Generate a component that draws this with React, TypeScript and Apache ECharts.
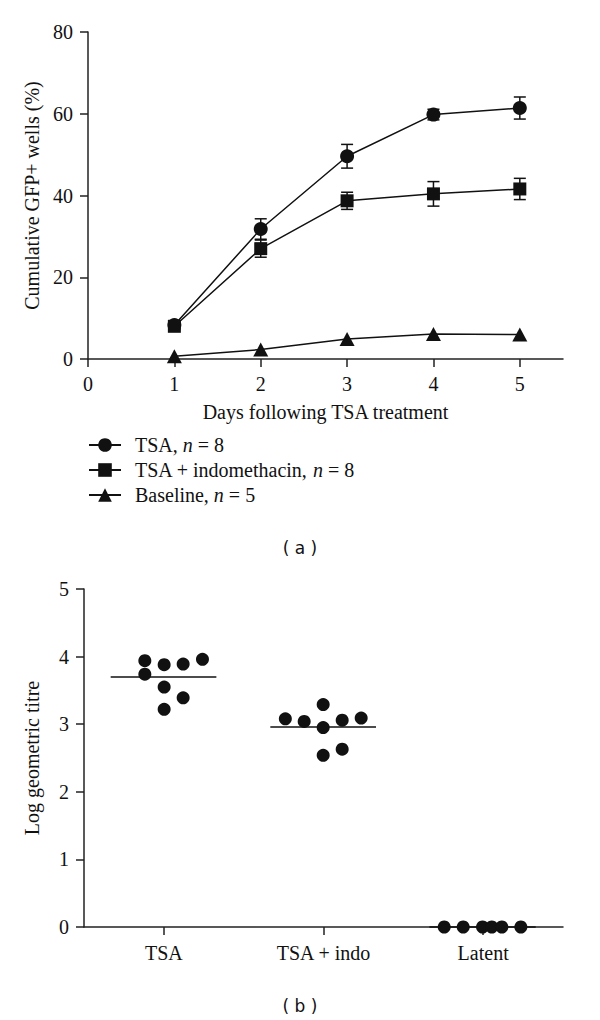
import React, { useEffect, useRef } from "react";
import * as echarts from "echarts";

// ---------- Panel (a) data ----------
const days = [1, 2, 3, 4, 5];
const dayTicks = [0, 1, 2, 3, 4, 5];
const tsaMean = [8.3, 31.8, 49.6, 59.8, 61.4];
const tsaErr = [0.8, 2.5, 2.9, 1.3, 2.7];
const indoMean = [8.0, 27.0, 38.7, 40.4, 41.6];
const indoErr = [0.8, 2.1, 2.1, 3.0, 2.6];
const baseMean = [0.7, 2.3, 4.9, 6.1, 6.0];
const seriesNames = ["TSA, n = 8", "TSA + indomethacin, n = 8", "Baseline, n = 5"];

// ---------- Panel (b) data ----------
const groups = ["TSA", "TSA + indo", "Latent"];
const tsaTitreX = [0.381, 0.381, 0.502, 0.502, 0.502, 0.621, 0.621, 0.742];
const tsaTitreY = [3.94, 3.74, 3.88, 3.55, 3.22, 3.89, 3.39, 3.96];
const indoTitreX = [1.261, 1.379, 1.498, 1.498, 1.498, 1.617, 1.617, 1.736];
const indoTitreY = [3.08, 3.04, 3.29, 2.95, 2.54, 3.06, 2.63, 3.09];
const latentTitreX = [2.256, 2.375, 2.496, 2.554, 2.617, 2.736];
const latentTitreY = [0, 0, 0, 0, 0, 0];
const medianStart = [0.167, 1.167, 2.163];
const medianEnd = [0.829, 1.829, 2.829];
const medianValue = [3.7, 2.96, 0];

const INK = "#111";
const SERIF = "'Liberation Serif', 'Times New Roman', serif";
const FS = 20;

const axisLineStyle = { color: "#222", width: 1.5 };

function errorBarRender(params: any, api: any) {
  const x = api.value(0);
  const y = api.value(1);
  const e = api.value(2);
  const top = api.coord([x, y + e]);
  const bot = api.coord([x, y - e]);
  const w = 6;
  const style = { stroke: INK, lineWidth: 1.5 };
  return {
    type: "group",
    children: [
      { type: "line", shape: { x1: top[0], y1: top[1], x2: bot[0], y2: bot[1] }, style },
      { type: "line", shape: { x1: top[0] - w, y1: top[1], x2: top[0] + w, y2: top[1] }, style },
      { type: "line", shape: { x1: bot[0] - w, y1: bot[1], x2: bot[0] + w, y2: bot[1] }, style },
    ],
  };
}

function medianRender(params: any, api: any) {
  const a = api.coord([api.value(0), api.value(2)]);
  const b = api.coord([api.value(1), api.value(2)]);
  return {
    type: "line",
    shape: { x1: a[0], y1: a[1], x2: b[0], y2: b[1] },
    style: { stroke: INK, lineWidth: 1.5 },
  };
}

export default function App() {
  const ref = useRef<HTMLDivElement>(null);

  useEffect(() => {
    document.body.style.margin = "0";
    if (!ref.current) return;
    const chart = echarts.init(ref.current, undefined, { renderer: "svg" });

    const labelStyle = { fontFamily: SERIF, fontSize: FS, color: INK };
    const nameStyle = { fontFamily: SERIF, fontSize: FS, color: INK };

    const option: any = {
      animation: false,
      backgroundColor: "#fff",
      title: [
        {
          text: "( a )",
          left: "center",
          top: 534,
          textStyle: { fontFamily: "'DejaVu Sans', sans-serif", fontSize: 17, fontWeight: "normal", color: INK },
        },
        {
          text: "( b )",
          left: "center",
          top: 992,
          textStyle: { fontFamily: "'DejaVu Sans', sans-serif", fontSize: 17, fontWeight: "normal", color: INK },
        },
      ],
      legend: {
        data: seriesNames,
        orient: "vertical",
        left: 88,
        top: 435,
        padding: 0,
        itemWidth: 32,
        itemHeight: 17,
        itemGap: 5,
        selectedMode: false,
        formatter: (name: string) => name.replace(/n = /, "{i|n} = "),
        textStyle: {
          fontFamily: SERIF,
          fontSize: FS,
          color: INK,
          padding: [0, 0, 0, 9],
          rich: { i: { fontFamily: SERIF, fontSize: FS, fontStyle: "italic", color: INK } },
        },
      },
      grid: [
        { left: 88, top: 32, width: 475, height: 327 },
        { left: 84, top: 589, width: 479, height: 338 },
      ],
      xAxis: [
        {
          type: "value",
          gridIndex: 0,
          min: 0,
          max: 5.5,
          interval: 1,
          name: "Days following TSA treatment",
          nameLocation: "middle",
          nameGap: 43,
          nameTextStyle: nameStyle,
          axisLine: { show: true, onZero: false, lineStyle: axisLineStyle },
          axisTick: { show: true, length: 8, lineStyle: axisLineStyle, customValues: dayTicks },
          axisLabel: { ...labelStyle, margin: 15, customValues: dayTicks },
          splitLine: { show: false },
        },
        {
          type: "category",
          gridIndex: 1,
          data: groups,
          boundaryGap: true,
          axisLine: { show: true, onZero: false, lineStyle: axisLineStyle },
          axisTick: { show: true, length: 8, alignWithLabel: true, lineStyle: axisLineStyle },
          axisLabel: { ...labelStyle, margin: 16 },
          splitLine: { show: false },
        },
        {
          type: "value",
          gridIndex: 1,
          min: 0,
          max: 3,
          show: false,
        },
      ],
      yAxis: [
        {
          type: "value",
          gridIndex: 0,
          min: 0,
          max: 80,
          interval: 20,
          name: "Cumulative GFP+ wells (%)",
          nameLocation: "middle",
          nameGap: 46,
          nameTextStyle: nameStyle,
          axisLine: { show: true, lineStyle: axisLineStyle },
          axisTick: { show: true, length: 8, lineStyle: axisLineStyle },
          axisLabel: { ...labelStyle, margin: 15 },
          splitLine: { show: false },
        },
        {
          type: "value",
          gridIndex: 1,
          min: 0,
          max: 5,
          interval: 1,
          name: "Log geometric titre",
          nameLocation: "middle",
          nameGap: 42,
          nameTextStyle: nameStyle,
          axisLine: { show: true, lineStyle: axisLineStyle },
          axisTick: { show: true, length: 8, lineStyle: axisLineStyle },
          axisLabel: { ...labelStyle, margin: 15 },
          splitLine: { show: false },
        },
      ],
      series: [
        {
          type: "custom",
          name: "tsa-err",
          xAxisIndex: 0,
          yAxisIndex: 0,
          renderItem: errorBarRender,
          encode: { x: 0, y: 1 },
          data: days.map((d, i) => [d, tsaMean[i], tsaErr[i]]),
          z: 1,
        },
        {
          type: "custom",
          name: "indo-err",
          xAxisIndex: 0,
          yAxisIndex: 0,
          renderItem: errorBarRender,
          encode: { x: 0, y: 1 },
          data: days.map((d, i) => [d, indoMean[i], indoErr[i]]),
          z: 1,
        },
        {
          type: "line",
          name: seriesNames[0],
          xAxisIndex: 0,
          yAxisIndex: 0,
          data: days.map((d, i) => [d, tsaMean[i]]),
          symbol: "circle",
          symbolSize: 14,
          itemStyle: { color: INK },
          lineStyle: { color: INK, width: 1.5 },
          z: 3,
        },
        {
          type: "line",
          name: seriesNames[1],
          xAxisIndex: 0,
          yAxisIndex: 0,
          data: days.map((d, i) => [d, indoMean[i]]),
          symbol: "rect",
          symbolSize: 13,
          itemStyle: { color: INK },
          lineStyle: { color: INK, width: 1.5 },
          z: 3,
        },
        {
          type: "line",
          name: seriesNames[2],
          xAxisIndex: 0,
          yAxisIndex: 0,
          data: days.map((d, i) => [d, baseMean[i]]),
          symbol: "triangle",
          symbolSize: [15, 14],
          itemStyle: { color: INK },
          lineStyle: { color: INK, width: 1.5 },
          z: 3,
        },
        {
          type: "scatter",
          name: "TSA titre",
          xAxisIndex: 2,
          yAxisIndex: 1,
          data: tsaTitreX.map((x, i) => [x, tsaTitreY[i]]),
          symbolSize: 13,
          itemStyle: { color: INK, opacity: 1 },
          z: 3,
        },
        {
          type: "scatter",
          name: "Indo titre",
          xAxisIndex: 2,
          yAxisIndex: 1,
          data: indoTitreX.map((x, i) => [x, indoTitreY[i]]),
          symbolSize: 13,
          itemStyle: { color: INK, opacity: 1 },
          z: 3,
        },
        {
          type: "scatter",
          name: "Latent titre",
          xAxisIndex: 2,
          yAxisIndex: 1,
          data: latentTitreX.map((x, i) => [x, latentTitreY[i]]),
          symbolSize: 13,
          clip: false,
          itemStyle: { color: INK, opacity: 1 },
          z: 3,
        },
        {
          type: "custom",
          name: "medians",
          xAxisIndex: 2,
          yAxisIndex: 1,
          renderItem: medianRender,
          encode: { x: [0, 1], y: 2 },
          clip: false,
          data: medianValue.map((m, i) => [medianStart[i], medianEnd[i], m]),
          z: 2,
        },
      ],
    };

    chart.setOption(option);
    return () => chart.dispose();
  }, []);

  return <div ref={ref} style={{ width: 600, height: 1020 }} />;
}
